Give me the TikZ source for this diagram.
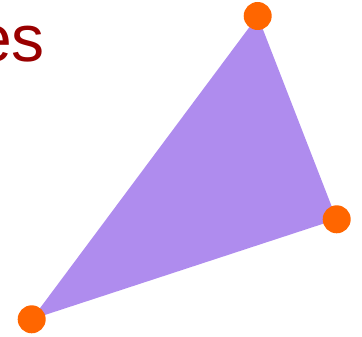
\documentclass[tikz,border=0pt]{standalone}
\usepackage{fontspec}
\setmainfont{Liberation Sans}
\definecolor{tri}{RGB}{175,140,238}
\definecolor{dot}{RGB}{255,102,0}
\definecolor{title}{RGB}{153,0,0}
\begin{document}
\begin{tikzpicture}[x=1pt,y=-1pt,
  vtx/.style={circle,fill=dot,inner sep=0pt,minimum size=28pt}]
\useasboundingbox (0,0) rectangle (362,337);
\coordinate (a) at (257.7,16);
\coordinate (b) at (336.7,219.3);
\coordinate (c) at (31.7,319.3);
\fill[tri] (a) -- (b) -- (c) -- cycle;
\node[vtx] (va) at (a) {};
\node[vtx] (vb) at (b) {};
\node[vtx] (vc) at (c) {};
\node[anchor=base east,inner sep=0pt,text=title,font=\fontsize{66}{70}\selectfont] (t) at (45,62) {es};
\end{tikzpicture}
\end{document}
